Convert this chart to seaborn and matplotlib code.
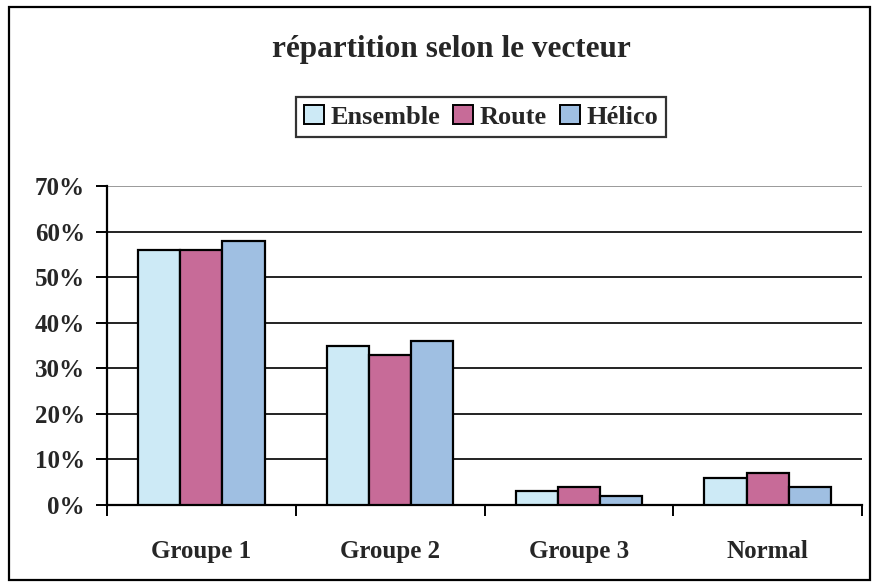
import pandas as pd
import seaborn as sns
import matplotlib
matplotlib.use("Agg")
import matplotlib.pyplot as plt
from matplotlib.patches import Rectangle
from matplotlib.ticker import FixedLocator, PercentFormatter

# Data
groups = ["Groupe 1", "Groupe 2", "Groupe 3", "Normal"]
series = ["Ensemble", "Route", "Hélico"]
ensemble = [56, 35, 3, 6]
route = [56, 33, 4, 7]
helico = [58, 36, 2, 4]
colors = ["#cdeaf6", "#c76b98", "#9fbfe2"]

df = pd.DataFrame({
    "groupe": groups * 3,
    "vecteur": [s for s in series for _ in groups],
    "valeur": ensemble + route + helico,
})

sns.set_theme(style="white")
plt.rcParams["font.family"] = ["Liberation Serif", "DejaVu Serif"]
plt.rcParams["font.weight"] = "bold"

fig = plt.figure(figsize=(8.76, 5.87), dpi=100)
ax = fig.add_axes([107 / 876, 82 / 587, 755 / 876, 319 / 587])

sns.barplot(data=df, x="groupe", y="valeur", hue="vecteur", order=groups,
            hue_order=series, palette=colors, width=0.67, gap=0,
            edgecolor="black", linewidth=1.6, saturation=1, ax=ax, zorder=3)

ax.set_ylim(0, 70)
ax.set_xlim(-0.5, 3.5)
ax.set_yticks(range(0, 71, 10))
ax.yaxis.set_major_formatter(PercentFormatter(decimals=0))
ax.grid(axis="y", color="#222222", linewidth=1.4, zorder=0)
ax.set_axisbelow(True)
# top gridline (plot area border) is lighter in the reference
ax.get_ygridlines()[-1].set_color("#9a9a9a")
for sp in ["top", "right"]:
    ax.spines[sp].set_visible(False)
ax.spines["left"].set_linewidth(1.6)
ax.spines["bottom"].set_linewidth(1.6)
ax.spines["left"].set_color("black")
ax.spines["bottom"].set_color("black")

ax.tick_params(axis="y", direction="out", length=8, width=1.4, color="black",
               labelsize=18, pad=8, left=True)
ax.tick_params(axis="x", which="major", length=0, labelsize=18, pad=25)
ax.xaxis.set_minor_locator(FixedLocator([-0.5, 0.5, 1.5, 2.5, 3.5]))
ax.tick_params(axis="x", which="minor", direction="out", length=8, width=1.4,
               color="black", bottom=True)
for lab in ax.get_xticklabels() + ax.get_yticklabels():
    lab.set_fontweight("bold")
ax.set_xlabel("")
ax.set_ylabel("")

leg = ax.legend(loc="center", bbox_to_anchor=(481 / 876, 1 - 117 / 587),
                bbox_transform=fig.transFigure, ncol=3, frameon=True,
                fancybox=False, edgecolor="black", prop={"size": 19, "weight": "bold"},
                handlelength=0.75, handleheight=0.75, handletextpad=0.25,
                columnspacing=0.5, borderpad=0.3)
leg.get_frame().set_linewidth(1.6)
for h in leg.legend_handles:
    h.set_edgecolor("black")
    h.set_linewidth(1.4)

fig.text(451 / 876, 1 - 50 / 587, "répartition selon le vecteur", ha="center",
         va="center", fontsize=22.5, fontweight="bold")

fig.patches.append(Rectangle((9 / 876, 7 / 587), 861 / 876, 573 / 587,
                             transform=fig.transFigure, fill=False,
                             edgecolor="black", linewidth=1.6))

fig.savefig("out.png", dpi=100)
